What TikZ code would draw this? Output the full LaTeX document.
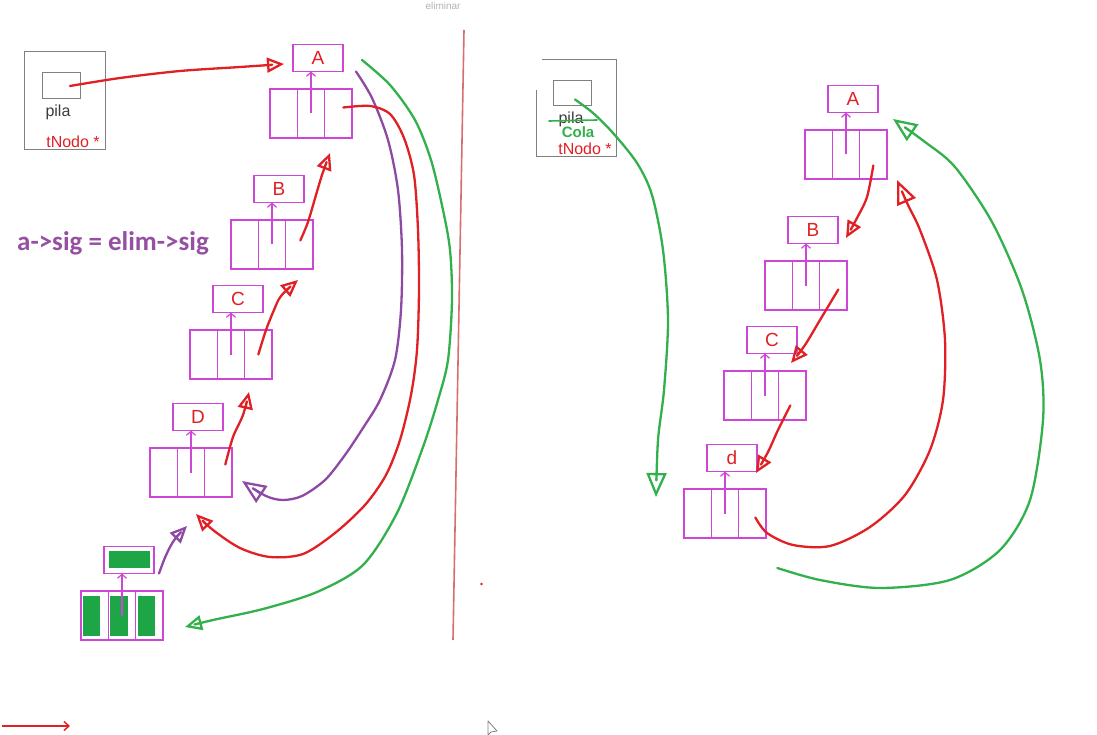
\documentclass[tikz,border=0pt]{standalone}
\usepackage{fontspec}
\setmainfont{Liberation Sans}
\newfontfamily\calfont{Carlito}
\usetikzlibrary{arrows.meta,calc}

\definecolor{mag}{RGB}{206,70,214}
\definecolor{redpen}{RGB}{224,32,36}
\definecolor{purplepen}{RGB}{142,74,162}
\definecolor{greenpen}{RGB}{50,176,76}
\definecolor{gfill}{RGB}{30,166,70}
\definecolor{boxgray}{RGB}{128,128,128}
\definecolor{textgray}{RGB}{60,60,60}
\definecolor{divider}{RGB}{214,112,112}
\definecolor{formula}{RGB}{150,80,162}

\tikzset{
  cell/.style={draw=mag, line width=1.3pt, rectangle, inner sep=0pt, outer sep=0pt,
    minimum width=27.33pt, minimum height=49pt},
  valbox/.style={draw=mag, line width=1.3pt, rectangle, inner sep=0pt, outer sep=0pt,
    minimum width=50pt, minimum height=27pt, text=redpen, font=\fontsize{19}{19}\selectfont},
  uplink/.style={draw=mag, line width=1.2pt, -{Straight Barb[length=4pt,width=9pt]}},
  pen/.style={line width=2.3pt, line cap=round, line join=round},
  tri/.style={-{Triangle[open,length=17pt,width=15pt]}},
  bigtri/.style={-{Triangle[open,length=24pt,width=20pt]}},
  graybox/.style={draw=boxgray, line width=1pt, rectangle, inner sep=0pt, outer sep=0pt},
  smallfont/.style={font=\fontsize{16}{16}\selectfont},
}

% one list node: three pointer cells with the value box above them
\newcommand{\listnodo}[4]{%
  \node[cell, anchor=north west] (#1-1) at (#2,#3) {};
  \node[cell, anchor=north west] (#1-2) at (#1-1.north east) {};
  \node[cell, anchor=north west] (#1-3) at (#1-2.north east) {};
  \node[valbox] (#1-v) at ($(#1-2.north)+(7,-31)$) {#4};
  \draw[uplink] (#1-2.center) -- (#1-2.center |- #1-v.south);
}

\begin{document}
\begin{tikzpicture}[x=1pt,y=-1pt]
\useasboundingbox (0,0) rectangle (1097,735);
\fill[white] (0,0) rectangle (1097,735);

% title
\node[text=boxgray!60, font=\fontsize{10}{10}\selectfont] (title) at (443,6) {eliminar};

% ---------- left half ----------
\node[graybox, anchor=north west, minimum width=81pt, minimum height=98pt] (pilaL) at (24,52) {};
\node[graybox, anchor=north west, minimum width=38pt, minimum height=26pt] (pilaL-in) at (42,73) {};
\node[text=textgray, smallfont] (pilaL-t) at (58,112) {pila};
\node[text=redpen, smallfont] (pilaL-ty) at (73,142) {tNodo *};

\listnodo{LA}{270}{89}{A}
\listnodo{LB}{231}{220}{B}
\listnodo{LC}{190}{330}{C}
\listnodo{LD}{150}{448}{D}

% removed node, filled in green
\foreach \c in {1,2,3}{
  \fill[gfill] (78+27.33*\c,596) ++(-22.33,0) rectangle ++(17.33,40);
}
\fill[gfill] (109,551) rectangle (150,568);
\listnodo{LG}{81}{591}{}

\node[text=formula, font=\calfont\bfseries\fontsize{27}{27}\selectfont] (formulaL) at (113,243) {a->sig = elim->sig};

% free ends of the left pen strokes
\coordinate (eA) at (284,64);
\coordinate (eB) at (330,153);
\coordinate (eC) at (298,280);
\coordinate (eD) at (249,392);
\coordinate (ePurple) at (242,481);
\coordinate (eRed) at (196,514);
\coordinate (eGreen) at (185,627);
\coordinate (eSmall) at (187,526);

\draw[pen, tri, redpen] plot[smooth] coordinates
  {($(pilaL-in.center)+(9,0)$) (120,78) (180,71) (240,67) (eA)};
\draw[pen, tri, redpen] plot[smooth] coordinates
  {($(LB-3.center)+(1,-4)$) (308,222) (316,195) (322,175) (eB)};
\draw[pen, tri, redpen] plot[smooth] coordinates
  {($(LC-3.center)+(0,0)$) (266,330) (274,310) (281,296) (eC)};
\draw[pen, tri, redpen] plot[smooth] coordinates
  {($(LD-3.center)+(7,-8)$) (233,437) (243,415) (eD)};

\draw[pen, bigtri, purplepen] plot[smooth] coordinates
  {($(LA-v.south east)+(13,0)$) (372,98) (388,140) (398,190) (402,250) (401,310)
   (395,360) (380,400) (363,428) (345,455) (325,480) (302,496) (283,500) (266,496) (ePurple)};
\draw[pen, tri, redpen] plot[smooth] coordinates
  {($(LA-3.center)+(5,-6)$) (370,106) (390,114) (404,138) (414,175) (418,230) (419,290)
   (417,350) (411,395) (400,440) (386,475) (365,505) (335,533) (303,554) (270,557)
   (240,548) (213,530) (eRed)};
\draw[pen, tri, greenpen] plot[smooth] coordinates
  {($(LA-v.east)+(19,2)$) (390,85) (415,120) (431,160) (443,210) (450,250) (452,300)
   (448,360) (438,400) (423,447) (397,513) (363,565) (317,592) (263,609) (213,620) (eGreen)};
\draw[pen, tri, purplepen] plot[smooth] coordinates
  {($(LG-v.south east)+(5,0)$) (164,560) (169,549) (175,539) (eSmall)};

% separator between the two halves
\coordinate (sepTop) at (464,30);
\coordinate (sepBot) at (453,640);
\draw[divider, line width=1.6pt] (sepTop) -- (sepBot);
\fill[redpen] (481.5,584) circle (1.3pt);

% ---------- right half ----------
\coordinate (pR1) at (542,60);
\coordinate (pR2) at (616,60);
\coordinate (pR3) at (616,157);
\coordinate (pR4) at (536,157);
\coordinate (pR5) at (536,90);
\draw[boxgray, line width=1pt] (pR1) -- (pR2) -- (pR3) -- (pR4) -- (pR5);
\node[graybox, anchor=north west, minimum width=38pt, minimum height=25pt] (pilaR-in) at (553,81) {};
\node[text=textgray, smallfont] (pilaR-t) at (571,119) {pila};
\coordinate (strikeA) at (549,121);
\coordinate (strikeB) at (597,120);
\draw[greenpen, line width=1.6pt, line cap=round] (strikeA) -- (strikeB);
\node[text=greenpen, font=\bfseries\fontsize{15}{15}\selectfont] (pilaR-cola) at (578,132) {Cola};
\node[text=redpen, smallfont] (pilaR-ty) at (585,149) {tNodo *};

\listnodo{RA}{805}{130}{A}
\listnodo{RB}{765}{261}{B}
\listnodo{RC}{724}{371}{C}
\listnodo{RD}{684}{489}{d}

\coordinate (fCola) at (656,497);
\coordinate (fA) at (846,238);
\coordinate (fB) at (791,363);
\coordinate (fC) at (756,473);
\coordinate (fRed) at (897,180);
\coordinate (fGreen) at (893,119);

\draw[pen, bigtri, greenpen] plot[smooth] coordinates
  {($(pilaR-in.center)+(3,6)$) (593,113) (613,133) (637,163) (652,195) (663,250)
   (668,320) (664,390) (658,440) (fCola)};
\draw[pen, tri, redpen] plot[smooth] coordinates
  {($(RA-3.center)+(0,11)$) (867,197) (857,218) (fA)};
\draw[pen, tri, redpen] plot[smooth] coordinates
  {($(RB-3.center)+(5,4)$) (820,320) (805,345) (fB)};
\draw[pen, tri, redpen] plot[smooth] coordinates
  {($(RC-3.center)+(-2,10)$) (778,430) (768,452) (fC)};
\draw[pen, bigtri, redpen] plot[smooth] coordinates
  {($(RD-3.center)+(3,4)$) (767,533) (793,545) (830,546) (870,527) (905,495) (930,450)
   (943,400) (945,340) (937,280) (920,230) (908,205) (fRed)};
\draw[pen, bigtri, greenpen] plot[smooth] coordinates
  {($(RD-3.south)+(25,30)$) (820,580) (880,588) (950,580) (1000,550) (1030,500)
   (1043,420) (1040,360) (1022,290) (992,222) (955,167) (925,142) (fGreen)};

% red marker arrow at the bottom left
\coordinate (mkA) at (2,726);
\coordinate (mkB) at (70,726);
\draw[redpen, line width=1.4pt, -{Straight Barb[length=5pt,width=9pt]}] (mkA) -- (mkB);

% mouse pointer
\coordinate (cur) at (488,721);
\draw[boxgray, fill=white, line width=0.8pt, line join=round]
  (cur) -- ++(0,14) -- ++(3,-3) -- ++(6,-1) -- cycle;
\end{tikzpicture}
\end{document}
